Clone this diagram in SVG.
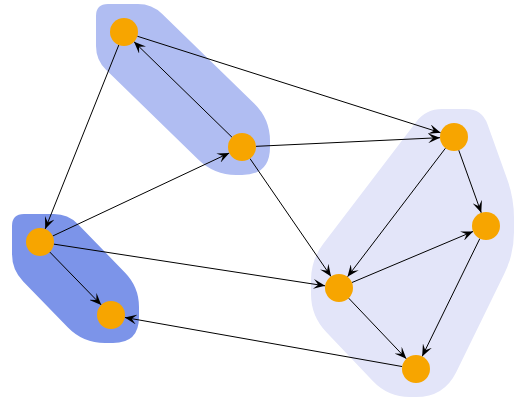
<svg xmlns="http://www.w3.org/2000/svg" width="522" height="405" viewBox="0 0 522 405">
<style>
.hull{stroke:none}
.edge{stroke:#000;stroke-width:1;fill:none;marker-end:url(#arr)}
.node{fill:#f7a500}
</style>
<defs>
<marker id="arr" viewBox="-12 -5 12 10" refX="0" refY="0" markerWidth="12" markerHeight="10" markerUnits="userSpaceOnUse" orient="auto">
<path d="M0,0 L-12,-5 L-7,0 L-12,5 Z" fill="#000"/>
</marker>
</defs>
<rect width="522" height="405" fill="#fff"/>
<g id="groups">
<path id="hull-ab" class="hull" fill="#b0bdf2" d="M108,4 L138,4 Q152,4 162,13.8 L254.2,103.6 Q270,119 270,141 L270,147 Q270,175 242,175 L236,175 Q214,175 198.2,159.6 L106,69.8 Q96,60 96,46 L96,16 Q96,4 108,4 Z"/>
<path id="hull-cd" class="hull" fill="#7c94e9" d="M24,214 L54,214 Q68,214 77.8,224 L125.1,272.7 Q139,287 139,307 L139,317 Q139,343 113,343 L105,343 Q83,343 67.7,327.2 L23.2,281.5 Q12,270 12,254 L12,226 Q12,214 24,214 Z"/>
<path id="hull-efgh" class="hull" fill="#e3e5f9" d="M442,109 L466,109 Q482,109 487.4,124.1 L507.2,179.2 Q514,198 514,218 L514,232 Q514,254 504.3,273.8 L456.3,371.9 Q444,397 416,397 L410,397 Q388,397 372.8,381 L326.2,332 Q311,316 311,294 L311,280 Q311,260 323.1,244.1 L416.3,121.7 Q426,109 442,109 Z"/>
</g>
<g id="connectors">
<line class="edge" x1="231.97" y1="137.23" x2="134.03" y2="41.77"/>
<line class="edge" x1="137.34" y1="36.24" x2="440.66" y2="132.76"/>
<line class="edge" x1="118.8" y1="45.0" x2="45.2" y2="229.0"/>
<line class="edge" x1="52.67" y1="236.04" x2="229.33" y2="152.96"/>
<line class="edge" x1="255.98" y1="146.34" x2="440.02" y2="137.66"/>
<line class="edge" x1="249.94" y1="158.53" x2="331.06" y2="276.47"/>
<line class="edge" x1="49.76" y1="252.04" x2="101.24" y2="304.96"/>
<line class="edge" x1="53.84" y1="244.13" x2="325.16" y2="285.87"/>
<line class="edge" x1="445.52" y1="148.14" x2="347.48" y2="276.86"/>
<line class="edge" x1="458.74" y1="150.17" x2="481.26" y2="212.83"/>
<line class="edge" x1="351.9" y1="282.56" x2="473.1" y2="231.44"/>
<line class="edge" x1="348.65" y1="298.15" x2="406.35" y2="358.85"/>
<line class="edge" x1="479.84" y1="238.57" x2="422.16" y2="356.43"/>
<line class="edge" x1="402.21" y1="366.56" x2="124.79" y2="317.44"/>
</g>
<g id="node-a"><circle class="node" cx="124" cy="32" r="14"/></g>
<g id="node-b"><circle class="node" cx="242" cy="147" r="14"/></g>
<g id="node-c"><circle class="node" cx="40" cy="242" r="14"/></g>
<g id="node-d"><circle class="node" cx="111" cy="315" r="14"/></g>
<g id="node-e"><circle class="node" cx="454" cy="137" r="14"/></g>
<g id="node-f"><circle class="node" cx="486" cy="226" r="14"/></g>
<g id="node-g"><circle class="node" cx="339" cy="288" r="14"/></g>
<g id="node-h"><circle class="node" cx="416" cy="369" r="14"/></g>
</svg>
